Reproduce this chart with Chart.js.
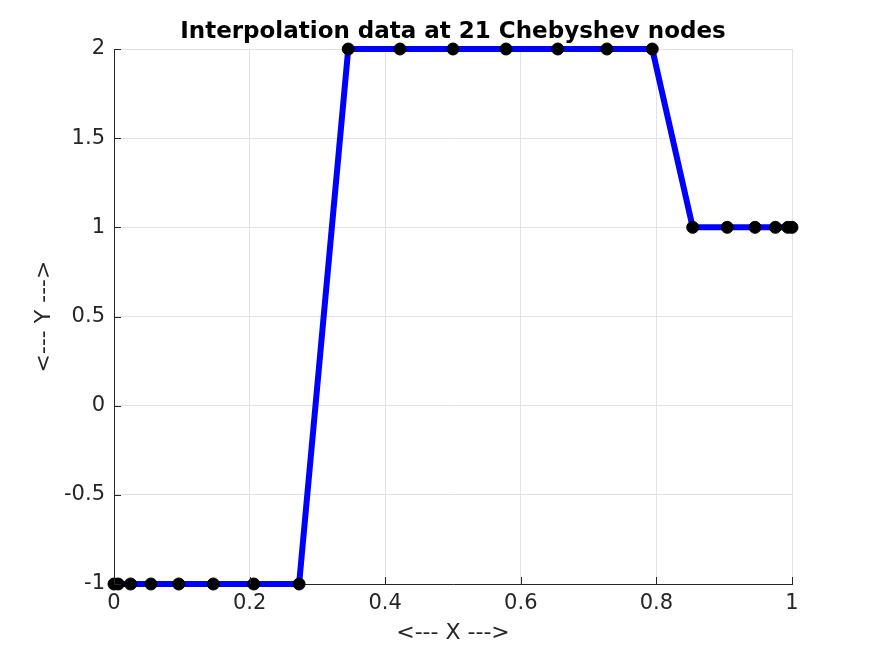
<!DOCTYPE html>
<html><head><meta charset="utf-8">
<script src="https://cdn.jsdelivr.net/npm/chart.js@4/dist/chart.umd.min.js"></script>
<style>html,body{margin:0;padding:0;background:#fff;}canvas{display:block;}</style>
</head><body>
<canvas id="c" width="875" height="656"></canvas>
<script>
const titleText = 'Interpolation data at 21 Chebyshev nodes';
const xLabel = '<--- X --->';
const yLabel = '<--- Y --->';
const xNodes = [0, 0.00616, 0.02447, 0.05450, 0.09549, 0.14645, 0.20611, 0.27300, 0.34549, 0.42178, 0.5,
                0.57822, 0.65451, 0.72700, 0.79389, 0.85355, 0.90451, 0.94550, 0.97553, 0.99384, 1];
const yValues = [-1, -1, -1, -1, -1, -1, -1, -1, 2, 2, 2, 2, 2, 2, 2, 1, 1, 1, 1, 1, 1];
const xTicks = [0, 0.2, 0.4, 0.6, 0.8, 1];
const yTicks = [-1, -0.5, 0, 0.5, 1, 1.5, 2];

const FONT = 'DejaVu Sans';
const axisColor = '#262626';

const decor = {
  id: 'decor',
  afterDraw(chart) {
    const ctx = chart.ctx, xs = chart.scales.x, ys = chart.scales.y, a = chart.chartArea;
    ctx.save();
    ctx.strokeStyle = axisColor; ctx.lineWidth = 1;
    ctx.beginPath();
    xTicks.forEach(v => { const px = Math.round(xs.getPixelForValue(v)) + 0.5; ctx.moveTo(px, a.bottom); ctx.lineTo(px, a.bottom - 7); });
    yTicks.forEach(v => { const py = Math.round(ys.getPixelForValue(v)) + 0.5; ctx.moveTo(a.left, py); ctx.lineTo(a.left + 7, py); });
    ctx.stroke();
    ctx.fillStyle = '#000';
    ctx.textAlign = 'center'; ctx.textBaseline = 'middle';
    ctx.font = 'bold 23px ' + FONT;
    ctx.fillText(titleText, (a.left + a.right) / 2, 32);
    ctx.fillStyle = axisColor;
    ctx.font = '22px ' + FONT;
    ctx.fillText(xLabel, (a.left + a.right) / 2, 633);
    ctx.translate(44, (a.top + a.bottom) / 2);
    ctx.rotate(-Math.PI / 2);
    ctx.fillText(yLabel, 0, 0);
    ctx.restore();
  }
};

new Chart(document.getElementById('c'), {
  type: 'scatter',
  data: {
    datasets: [{
      data: xNodes.map((x, i) => ({ x: x, y: yValues[i] })),
      showLine: true,
      borderColor: '#0000ff',
      borderWidth: 6,
      pointRadius: 6,
      pointBackgroundColor: '#000',
      pointBorderColor: '#000',
      pointBorderWidth: 1,
      tension: 0,
      clip: false
    }]
  },
  options: {
    responsive: false,
    animation: false,
    layout: { padding: { left: 0, right: 83, top: 49, bottom: 0 } },
    plugins: { legend: { display: false }, tooltip: { enabled: false }, title: { display: false } },
    scales: {
      x: {
        type: 'linear', min: 0, max: 1,
        afterBuildTicks: s => { s.ticks = xTicks.map(v => ({ value: v })); },
        afterFit: s => { s.height = 72; },
        grid: { color: '#e3e3e3', drawTicks: false },
        border: { display: true, color: axisColor, width: 1 },
        ticks: { color: axisColor, font: { family: FONT, size: 21 }, padding: 7, maxRotation: 0,
                 callback: v => String(Math.round(v * 10) / 10) }
      },
      y: {
        type: 'linear', min: -1, max: 2,
        afterBuildTicks: s => { s.ticks = yTicks.map(v => ({ value: v })); },
        afterFit: s => { s.width = 114; },
        grid: { color: '#e3e3e3', drawTicks: false },
        border: { display: true, color: axisColor, width: 1 },
        ticks: { color: axisColor, font: { family: FONT, size: 21 }, padding: 9,
                 callback: v => String(v) }
      }
    }
  },
  plugins: [decor]
});
</script>
</body></html>
